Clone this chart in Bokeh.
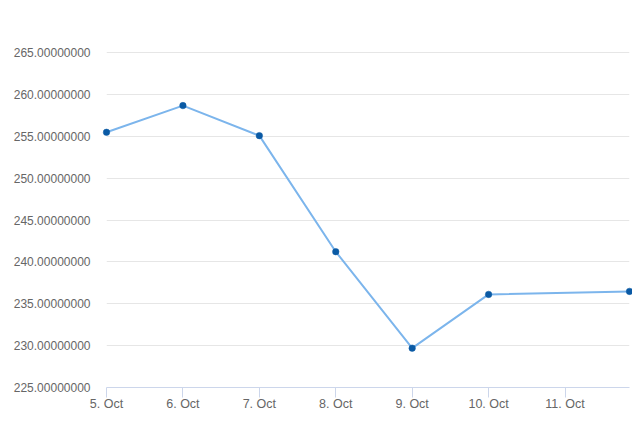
import pandas as pd
from bokeh.plotting import figure
from bokeh.models import Range1d, DatetimeTickFormatter, DaysTicker, SingleIntervalTicker, NumeralTickFormatter
from bokeh.embed import file_html
from bokeh.resources import INLINE

dates = ["2023-10-05 00:00", "2023-10-06 00:00", "2023-10-07 00:00", "2023-10-08 00:00",
         "2023-10-09 00:00", "2023-10-10 00:00", "2023-10-11 20:15"]
values = [255.48, 258.67, 255.08, 241.22, 229.70, 236.12, 236.48]
y_min, y_max, y_step = 225, 265, 5

x = pd.to_datetime(dates)

p = figure(width=632, height=419, x_axis_type="datetime",
           output_backend="svg", toolbar_location=None,
           x_range=Range1d(x[0], x[-1]), y_range=Range1d(y_min, y_max + 0.13),
           min_border_left=106, min_border_right=3, min_border_top=51, min_border_bottom=32)
p.outline_line_color = None
p.background_fill_color = "white"
p.border_fill_color = "white"

p.line(x, values, line_color="#7cb5ec", line_width=2)
p.scatter(x, values, size=6.5, fill_color="#0a5aa5", line_color="#0a5aa5", line_width=0.5,
          level="overlay")

font = "Liberation Sans"
# x axis
p.xaxis.ticker = DaysTicker(days=list(range(1, 32)))
p.xaxis.formatter = DatetimeTickFormatter(days="%-d. %b", hours="%-d. %b", months="%-d. %b")
p.xaxis.axis_line_color = "#ccd6eb"
p.xaxis.major_tick_line_color = "#ccd6eb"
p.xaxis.major_tick_out = 10
p.xaxis.major_tick_in = 0
p.xaxis.minor_tick_line_color = None
p.xaxis.major_label_standoff = -1
p.xaxis.major_label_text_font = font
p.xaxis.major_label_text_font_size = "12.5px"
p.xaxis.major_label_text_color = "#666666"
p.xgrid.grid_line_color = None

# y axis
p.yaxis.ticker = SingleIntervalTicker(interval=y_step)
p.yaxis.formatter = NumeralTickFormatter(format="0.00000000")
p.yaxis.axis_line_color = None
p.yaxis.major_tick_line_color = None
p.yaxis.minor_tick_line_color = None
p.yaxis.major_label_standoff = 10
p.yaxis.major_label_text_font = font
p.yaxis.major_label_text_font_size = "12px"
p.yaxis.major_label_text_color = "#666666"
p.ygrid.grid_line_color = "#e6e6e6"
p.ygrid.grid_line_width = 1

open("out.html", "w").write(file_html(p, INLINE))
